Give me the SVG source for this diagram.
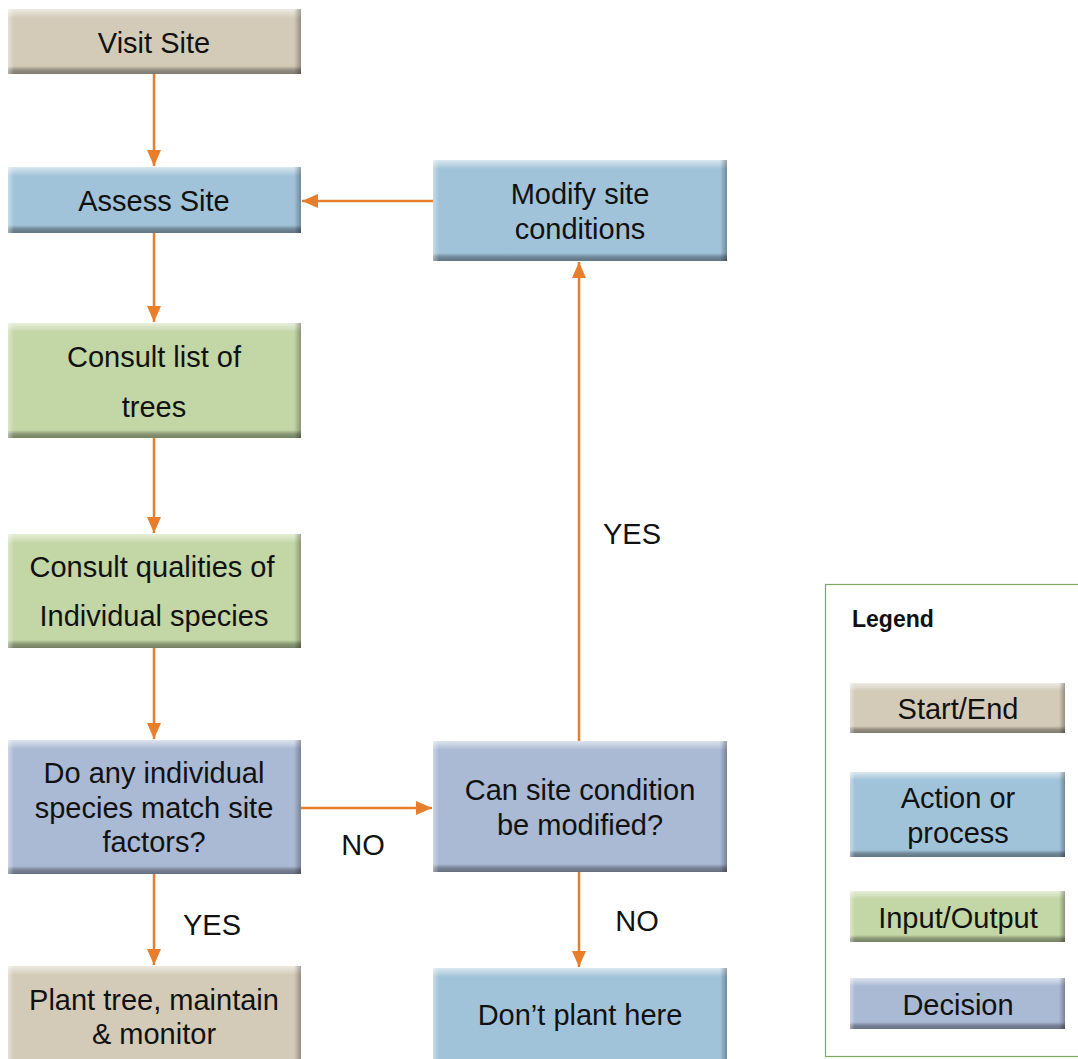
<svg xmlns="http://www.w3.org/2000/svg" width="1078" height="1059" viewBox="0 0 1078 1059">
<defs>
<linearGradient id="gTop" x1="0" y1="0" x2="0" y2="1"><stop offset="0" stop-color="#fff" stop-opacity="0.6"/><stop offset="1" stop-color="#fff" stop-opacity="0"/></linearGradient>
<linearGradient id="gBot" x1="0" y1="0" x2="0" y2="1"><stop offset="0" stop-color="#000" stop-opacity="0"/><stop offset="0.5" stop-color="#000" stop-opacity="0.3"/><stop offset="1" stop-color="#000" stop-opacity="0.4"/></linearGradient>
<linearGradient id="gLeft" x1="0" y1="0" x2="1" y2="0"><stop offset="0" stop-color="#fff" stop-opacity="0.4"/><stop offset="1" stop-color="#fff" stop-opacity="0"/></linearGradient>
<linearGradient id="gRight" x1="0" y1="0" x2="1" y2="0"><stop offset="0" stop-color="#000" stop-opacity="0"/><stop offset="1" stop-color="#000" stop-opacity="0.3"/></linearGradient>
<marker id="ah" viewBox="0 0 16 14" refX="16" refY="7" markerWidth="16" markerHeight="14" markerUnits="userSpaceOnUse" orient="auto"><path d="M0,0 L16,7 L0,14 Z" fill="#e87d2a"/></marker>
</defs>
<style>
.se{fill:#d3cbb8}.ap{fill:#a1c3d9}.io{fill:#c3d6a5}.dc{fill:#aab9d4}
.t{fill:url(#gTop)}.b{fill:url(#gBot)}.l{fill:url(#gLeft)}.r{fill:url(#gRight)}
text{font-family:"Liberation Sans",Arial,sans-serif;font-size:29px;fill:#111;text-anchor:middle}
.conn line{stroke:#e87d2a;stroke-width:2.5;marker-end:url(#ah)}
</style>
<rect x="0" y="0" width="1078" height="1059" fill="#fff"/>

<g id="visit">
<rect class="se" x="8" y="9" width="293" height="65"/>
<rect class="t" x="8" y="9" width="293" height="9"/><rect class="b" x="8" y="66" width="293" height="8"/><rect class="l" x="8" y="9" width="6" height="65"/><rect class="r" x="294" y="9" width="7" height="65"/>
<text x="154" y="53">Visit Site</text>
</g>

<g id="assess">
<rect class="ap" x="8" y="167" width="293" height="66"/>
<rect class="t" x="8" y="167" width="293" height="9"/><rect class="b" x="8" y="225" width="293" height="8"/><rect class="l" x="8" y="167" width="6" height="66"/><rect class="r" x="294" y="167" width="7" height="66"/>
<text x="154" y="211">Assess Site</text>
</g>

<g id="consultList">
<rect class="io" x="8" y="323" width="293" height="115"/>
<rect class="t" x="8" y="323" width="293" height="9"/><rect class="b" x="8" y="430" width="293" height="8"/><rect class="l" x="8" y="323" width="6" height="115"/><rect class="r" x="294" y="323" width="7" height="115"/>
<text x="154" y="367">Consult list of</text>
<text x="154" y="417">trees</text>
</g>

<g id="consultQual">
<rect class="io" x="8" y="534" width="293" height="114"/>
<rect class="t" x="8" y="534" width="293" height="9"/><rect class="b" x="8" y="640" width="293" height="8"/><rect class="l" x="8" y="534" width="6" height="114"/><rect class="r" x="294" y="534" width="7" height="114"/>
<text x="152" y="577">Consult qualities of</text>
<text x="154" y="626">Individual species</text>
</g>

<g id="doAny">
<rect class="dc" x="8" y="740" width="293" height="134"/>
<rect class="t" x="8" y="740" width="293" height="9"/><rect class="b" x="8" y="866" width="293" height="8"/><rect class="l" x="8" y="740" width="6" height="134"/><rect class="r" x="294" y="740" width="7" height="134"/>
<text x="154" y="783">Do any individual</text>
<text x="154" y="818">species match site</text>
<text x="154" y="852">factors?</text>
</g>

<g id="plant">
<rect class="se" x="8" y="966" width="293" height="93"/>
<rect class="t" x="8" y="966" width="293" height="9"/><rect class="l" x="8" y="966" width="6" height="93"/><rect class="r" x="294" y="966" width="7" height="93"/>
<text x="154" y="1010">Plant tree, maintain</text>
<text x="154" y="1044">&amp; monitor</text>
</g>

<g id="modify">
<rect class="ap" x="433" y="160" width="294" height="101"/>
<rect class="t" x="433" y="160" width="294" height="9"/><rect class="b" x="433" y="253" width="294" height="8"/><rect class="l" x="433" y="160" width="6" height="101"/><rect class="r" x="720" y="160" width="7" height="101"/>
<text x="580" y="204">Modify site</text>
<text x="580" y="239">conditions</text>
</g>

<g id="canSite">
<rect class="dc" x="433" y="741" width="294" height="131"/>
<rect class="t" x="433" y="741" width="294" height="9"/><rect class="b" x="433" y="864" width="294" height="8"/><rect class="l" x="433" y="741" width="6" height="131"/><rect class="r" x="720" y="741" width="7" height="131"/>
<text x="580" y="800">Can site condition</text>
<text x="580" y="835">be modified?</text>
</g>

<g id="dontPlant">
<rect class="ap" x="433" y="968" width="294" height="91"/>
<rect class="t" x="433" y="968" width="294" height="9"/><rect class="l" x="433" y="968" width="6" height="91"/><rect class="r" x="720" y="968" width="7" height="91"/>
<text x="580" y="1025">Don’t plant here</text>
</g>

<g id="connectors" class="conn">
<line x1="154" y1="74" x2="154" y2="166"/>
<line x1="154" y1="233" x2="154" y2="322"/>
<line x1="154" y1="438" x2="154" y2="533"/>
<line x1="154" y1="648" x2="154" y2="739"/>
<line x1="154" y1="874" x2="154" y2="965"/>
<line x1="301" y1="808" x2="432" y2="808"/>
<line x1="579" y1="872" x2="579" y2="967"/>
<line x1="579" y1="741" x2="579" y2="262"/>
<line x1="433" y1="201" x2="302" y2="201"/>
</g>

<g id="edgeLabels">
<text x="632" y="544">YES</text>
<text x="363" y="855">NO</text>
<text x="212" y="935">YES</text>
<text x="637" y="931">NO</text>
</g>

<g id="legend">
<rect x="825.5" y="584.5" width="260" height="472" fill="#fff" stroke="#7fa85f" stroke-width="1.2"/>
<text x="852" y="627" style="font-size:23px;font-weight:bold;text-anchor:start">Legend</text>
<g id="lgStart">
<rect class="se" x="850" y="683" width="215" height="50"/>
<rect class="t" x="850" y="683" width="215" height="8"/><rect class="b" x="850" y="726" width="215" height="7"/><rect class="l" x="850" y="683" width="5" height="50"/><rect class="r" x="1059" y="683" width="6" height="50"/>
<text x="958" y="719">Start/End</text>
</g>
<g id="lgAction">
<rect class="ap" x="850" y="772" width="215" height="85"/>
<rect class="t" x="850" y="772" width="215" height="8"/><rect class="b" x="850" y="850" width="215" height="7"/><rect class="l" x="850" y="772" width="5" height="85"/><rect class="r" x="1059" y="772" width="6" height="85"/>
<text x="958" y="808">Action or</text>
<text x="958" y="843">process</text>
</g>
<g id="lgInput">
<rect class="io" x="850" y="891" width="215" height="51"/>
<rect class="t" x="850" y="891" width="215" height="8"/><rect class="b" x="850" y="935" width="215" height="7"/><rect class="l" x="850" y="891" width="5" height="51"/><rect class="r" x="1059" y="891" width="6" height="51"/>
<text x="958" y="928">Input/Output</text>
</g>
<g id="lgDecision">
<rect class="dc" x="850" y="978" width="215" height="51"/>
<rect class="t" x="850" y="978" width="215" height="8"/><rect class="b" x="850" y="1022" width="215" height="7"/><rect class="l" x="850" y="978" width="5" height="51"/><rect class="r" x="1059" y="978" width="6" height="51"/>
<text x="958" y="1015">Decision</text>
</g>
</g>
</svg>
